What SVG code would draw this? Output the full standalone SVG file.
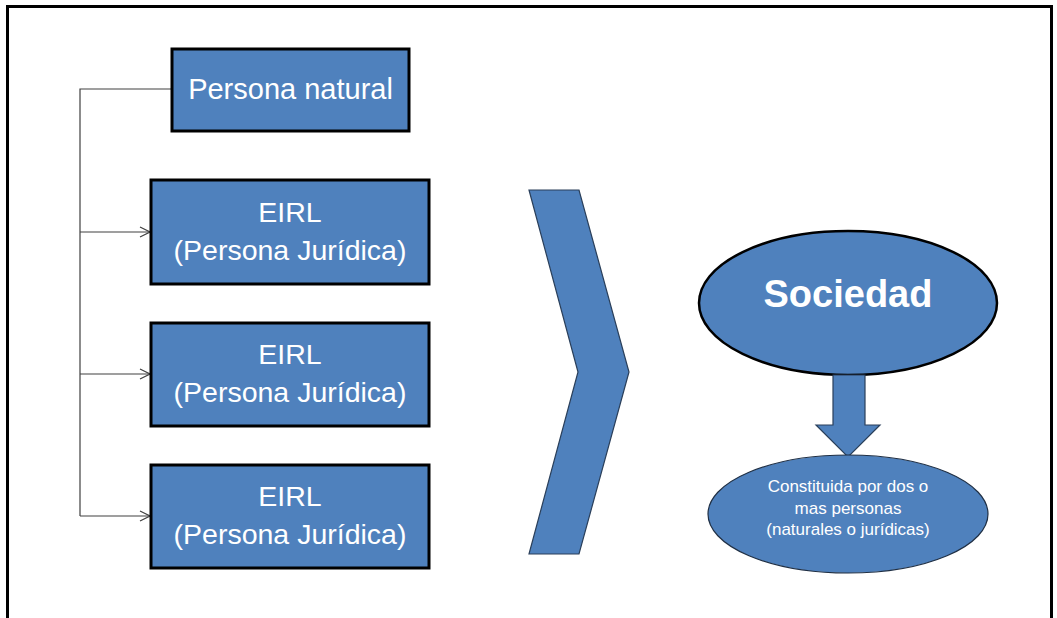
<svg xmlns="http://www.w3.org/2000/svg" width="1057" height="618" viewBox="0 0 1057 618">
<style>
.box{fill:#4F81BD;stroke:#000;stroke-width:3}
.lbl{font-family:"Liberation Sans",Arial,sans-serif;fill:#fff;text-anchor:middle}
.big{font-size:28.5px}
.conn{fill:none;stroke:#404040;stroke-width:1.2}
.shape{fill:#4F81BD;stroke:#2a3f5a;stroke-width:1.2}
</style>
<defs>
<marker id="open" viewBox="0 0 12 12" refX="11" refY="6" markerWidth="12" markerHeight="12" markerUnits="userSpaceOnUse" orient="auto">
<path d="M1,1 L11,6 L1,11" fill="none" stroke="#404040" stroke-width="1.2"/>
</marker>
</defs>
<rect width="1057" height="618" fill="#fff"/>
<path d="M7.5,618 V6.5 H1051.5 V618" fill="none" stroke="#000" stroke-width="3"/>
<g id="connectors">
<path class="conn" d="M172,89 H80 V516"/>
<path class="conn" d="M80,232 H150" marker-end="url(#open)"/>
<path class="conn" d="M80,374 H150" marker-end="url(#open)"/>
<path class="conn" d="M80,516 H150" marker-end="url(#open)"/>
</g>
<g id="persona-natural">
<rect class="box" x="172" y="49" width="237" height="82"/>
<text class="lbl" x="290.5" y="99" font-size="29">Persona natural</text>
</g>
<g id="eirl-1">
<rect class="box" x="151" y="180" width="278" height="104"/>
<text class="lbl big" x="290" y="222">EIRL</text>
<text class="lbl big" x="290" y="260">(Persona Jurídica)</text>
</g>
<g id="eirl-2">
<rect class="box" x="151" y="323" width="278" height="103"/>
<text class="lbl big" x="290" y="364">EIRL</text>
<text class="lbl big" x="290" y="402">(Persona Jurídica)</text>
</g>
<g id="eirl-3">
<rect class="box" x="151" y="465" width="278" height="103"/>
<text class="lbl big" x="290" y="506">EIRL</text>
<text class="lbl big" x="290" y="544">(Persona Jurídica)</text>
</g>
<g id="chevron">
<polygon class="shape" points="529,190 579,190 629,372 579,554 529,554 578,372"/>
</g>
<g id="sociedad">
<ellipse cx="848" cy="303" rx="149" ry="72" fill="#4F81BD" stroke="#000" stroke-width="2.5"/>
<text class="lbl" x="848" y="307" font-size="38" font-weight="bold">Sociedad</text>
</g>
<g id="down-arrow">
<polygon class="shape" points="833,375 865,375 865,425 880,425 848,457 816,425 833,425"/>
</g>
<g id="constituida">
<ellipse cx="848" cy="514" rx="140" ry="59" fill="#4F81BD" stroke="#1f2f44" stroke-width="1.2"/>
<text class="lbl" x="848" y="492" font-size="17">Constituida por dos o</text>
<text class="lbl" x="848" y="514" font-size="17">mas personas</text>
<text class="lbl" x="848" y="535" font-size="17">(naturales o jurídicas)</text>
</g>
</svg>
